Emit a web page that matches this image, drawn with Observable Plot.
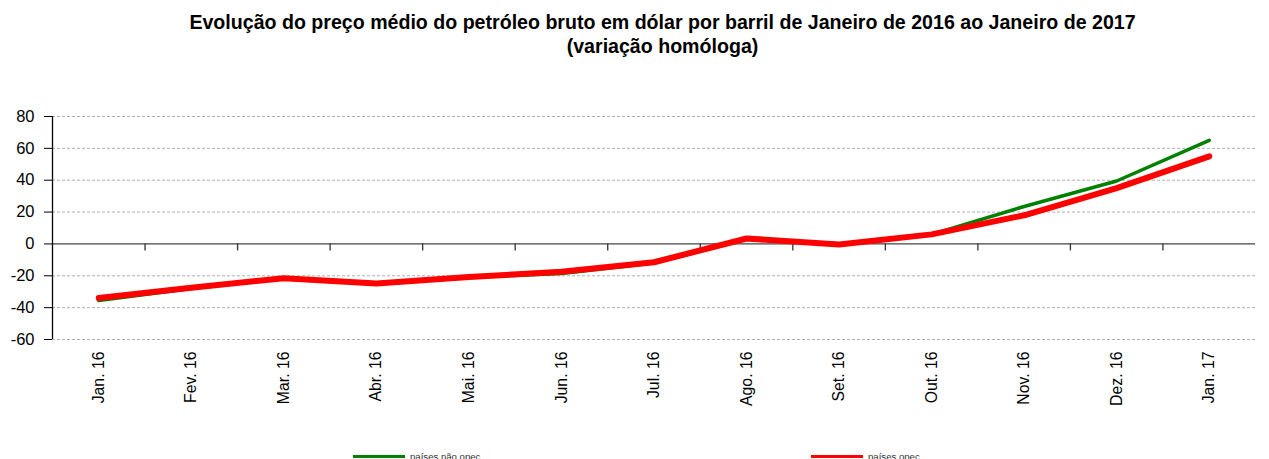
<!DOCTYPE html>
<html>
<head>
<meta charset="utf-8">
<script src="https://cdn.jsdelivr.net/npm/d3@7"></script>
<script src="https://cdn.jsdelivr.net/npm/@observablehq/plot@0.6"></script>
<style>
  html, body { margin: 0; padding: 0; background: #fff; }
  body { width: 1269px; height: 459px; overflow: hidden; font-family: "Liberation Sans", Arial, sans-serif; }
  #title { height: 70px; box-sizing: border-box; padding-top: 10px; text-align: center; font-weight: bold; font-size: 19.6px; line-height: 24px; color: #000; padding-left: 56px; white-space: nowrap; }
  #chart svg { display: block; }
  #legend { position: relative; height: 48px; font-size: 9.6px; color: #333; }
  .item { position: absolute; top: 36px; display: flex; align-items: center; height: 18px; }
  .sw { width: 52px; height: 3px; margin-right: 5px; }
</style>
</head>
<body>
<div id="title">Evolução do preço médio do petróleo bruto em dólar por barril de Janeiro de 2016 ao Janeiro de 2017<br>(variação homóloga)</div>
<div id="chart"></div>
<div id="legend"></div>
<script>
const months = ["Jan. 16","Fev. 16","Mar. 16","Abr. 16","Mai. 16","Jun. 16","Jul. 16","Ago. 16","Set. 16","Out. 16","Nov. 16","Dez. 16","Jan. 17"];
const naoOpec = [-35.5, -28, -21.5, -25, -21, -18.5, -12, 3, -0.5, 6, 23.5, 39.5, 65];
const opec = [-34, -27.5, -21.5, -24.8, -20.8, -17.5, -11.5, 3.4, -0.3, 6, 18, 35, 55];
const yTicks = [-60, -40, -20, 0, 20, 40, 60, 80];
const seriesNames = ["países não opec", "países opec"];
const seriesColors = ["#008000", "#ff0000"];

const rows = [];
months.forEach((m, i) => {
  rows.push({i, month: m, series: seriesNames[0], value: naoOpec[i]});
  rows.push({i, month: m, series: seriesNames[1], value: opec[i]});
});
const idx = d3.range(months.length);
const bounds = d3.range(1, months.length).map(k => k - 0.5);

const plot = Plot.plot({
  width: 1269,
  height: 341,
  marginTop: 46,
  marginBottom: 72,
  marginLeft: 52,
  marginRight: 14,
  style: {fontFamily: "'Liberation Sans', Arial, sans-serif", fontSize: "15px", color: "#000", background: "#fff"},
  x: {domain: [-0.5, months.length - 0.5]},
  y: {domain: [-60, 80]},
  marks: [
    Plot.gridY(yTicks.filter(v => v !== 0), {stroke: "#b0b0b0", strokeOpacity: 1, strokeDasharray: "3,2"}),
    Plot.ruleY([0], {stroke: "#444", strokeWidth: 1.3}),
    Plot.ruleX(bounds, {y1: 0, y2: 0, insetBottom: -7, stroke: "#333", strokeWidth: 1.3}),
    Plot.ruleX([-0.5], {y1: -60, y2: 80, stroke: "#000", strokeWidth: 1.3}),
    Plot.axisY(yTicks, {tickSize: 8, tickPadding: 10, fontSize: 16.5, label: null, stroke: "#000", tickFormat: d => String(d)}),
    Plot.axisX(idx, {tickFormat: i => months[i], tickRotate: -90, tickSize: 0, tickPadding: 12, fontSize: 15.8, label: null}),
    Plot.line(rows.filter(d => d.series === seriesNames[0]), {x: "i", y: "value", stroke: seriesColors[0], strokeWidth: 3.5, strokeLinecap: "round", strokeLinejoin: "round"}),
    Plot.line(rows.filter(d => d.series === seriesNames[1]), {x: "i", y: "value", stroke: seriesColors[1], strokeWidth: 6, strokeLinecap: "round", strokeLinejoin: "round"})
  ]
});
document.getElementById("chart").appendChild(plot);

const legend = document.getElementById("legend");
const lefts = [353, 811];
seriesNames.forEach((name, k) => {
  const it = document.createElement("div");
  it.className = "item";
  it.style.left = lefts[k] + "px";
  it.innerHTML = `<span class="sw" style="background:${seriesColors[k]}"></span><span>${name}</span>`;
  legend.appendChild(it);
});
</script>
</body>
</html>
